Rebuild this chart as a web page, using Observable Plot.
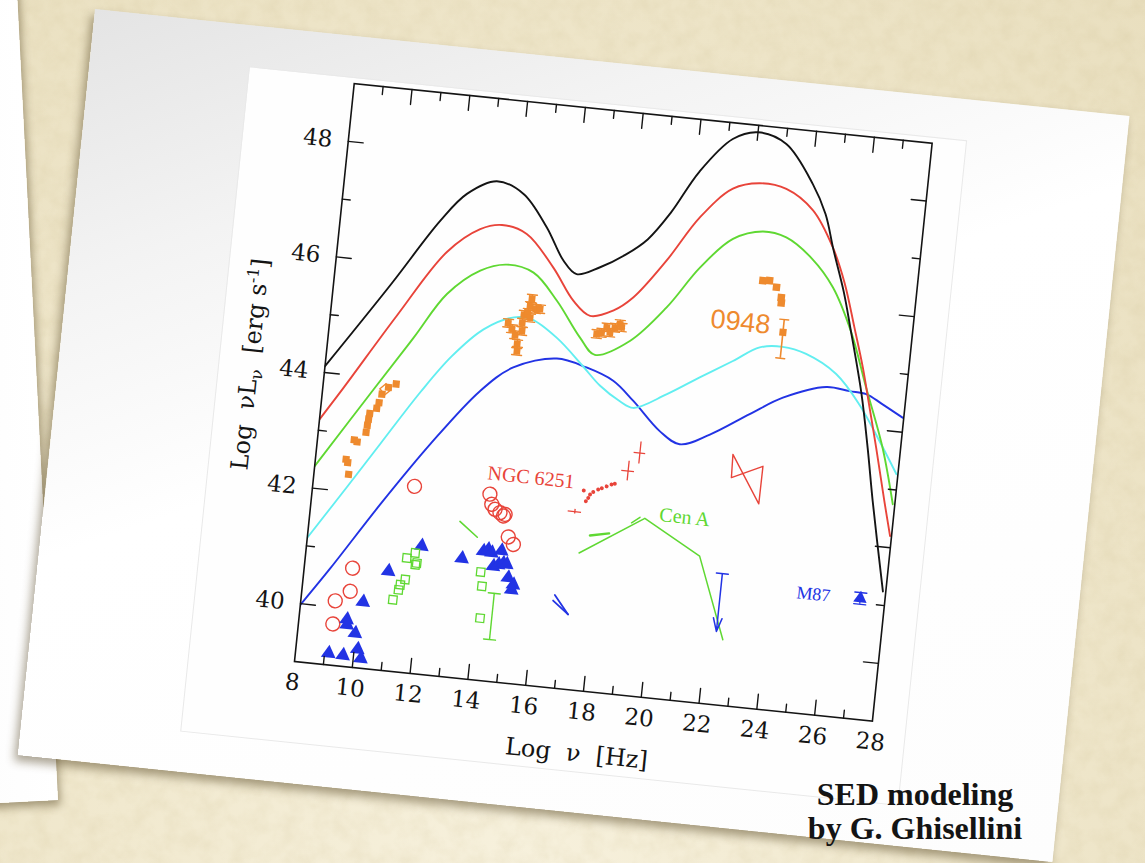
<!DOCTYPE html>
<html>
<head>
<meta charset="utf-8">
<script src="https://cdn.jsdelivr.net/npm/d3@7"></script>
<script src="https://cdn.jsdelivr.net/npm/@observablehq/plot@0.6"></script>
<style>
  html, body { margin: 0; padding: 0; width: 1145px; height: 863px; overflow: hidden; }
  body {
    position: relative;
    background: radial-gradient(ellipse at 45% 105%, #f7f1dd 0%, #f1e9cf 45%, #e9dfbf 100%);
  }
  #grain { position: absolute; left: 0; top: 0; }
  #back {
    position: absolute; left: -342px; top: -100px; width: 400px; height: 900px;
    transform-origin: 100% 100%; transform: rotate(-2.9deg);
    background: linear-gradient(90deg, #f4f4f4 0%, #ffffff 100%);
    box-shadow: 2px 5px 9px rgba(70, 55, 20, 0.45);
  }
  #sheet {
    position: absolute; left: 95px; top: 9px; width: 1040px; height: 750px;
    transform-origin: 0 0; transform: rotate(5.9deg);
    background: linear-gradient(155deg, #e4e4e4 0%, #f3f3f3 22%, #ffffff 45%, #fdfdfd 100%);
    box-shadow: -3px 6px 10px rgba(70, 55, 20, 0.45);
  }
  #chart {
    position: absolute; left: 160px; top: 42px; width: 720px; height: 667px;
    background: #fefefe; outline: 1px solid #e9e9e9;
  }
  #credit {
    position: absolute; left: 765px; top: 777px; width: 300px;
    font: bold 32px "Liberation Serif", serif; line-height: 34px;
    text-align: center; color: #141414;
  }
</style>
</head>
<body>
<svg id="grain" width="1145" height="863">
  <filter id="mottle">
    <feTurbulence type="fractalNoise" baseFrequency="0.06" numOctaves="3" seed="7"/>
    <feColorMatrix type="matrix" values="0 0 0 0 0.55  0 0 0 0 0.45  0 0 0 0 0.22  0.6 0 0 0 -0.2"/>
  </filter>
  <rect width="1145" height="863" filter="url(#mottle)" opacity="0.4"/>
</svg>
<div id="back"></div>
<div id="sheet"><div id="chart"></div></div>
<div id="credit">SED modeling<br>by G. Ghisellini</div>

<script>
// ---- Blazar-sequence model SEDs: log ν [Hz] vs log νLν [erg/s] ----
const nuBlack  = [8.0, 9.96, 11.43, 12.25, 13.23, 14.19, 15.10, 15.79, 16.29, 17.07, 17.9, 18.6, 19.3, 20.13, 21.16, 22.0, 23.01, 24.06, 24.6, 25.0, 25.5, 25.85, 26.46, 26.87, 27.23, 27.9];
const lumBlack = [44.11, 45.62, 46.80, 47.31, 47.58, 47.41, 46.88, 46.34, 46.13, 46.29, 46.55, 46.85, 47.35, 48.10, 48.72, 48.88, 48.73, 48.09, 47.6, 47.0, 46.3, 45.7, 44.6, 43.67, 42.77, 41.24];

const nuRed  = [8.0, 8.72, 10.28, 11.77, 12.83, 13.56, 14.44, 15.47, 16.27, 16.90, 17.67, 18.31, 19.32, 20.31, 21.34, 22.24, 23.17, 24.16, 24.97, 25.5, 25.99, 26.42, 26.8, 27.16, 27.63, 27.95];
const lumRed = [43.19, 43.78, 45.10, 46.28, 46.73, 46.84, 46.73, 46.20, 45.67, 45.44, 45.57, 45.83, 46.52, 47.32, 47.87, 48.01, 47.96, 47.64, 47.04, 46.45, 45.71, 45.04, 44.35, 43.69, 42.79, 42.2];

const nuGreen  = [8.0, 9.75, 10.93, 11.92, 12.98, 13.87, 14.81, 15.71, 16.63, 17.2, 18.35, 19.49, 20.49, 21.52, 22.52, 23.34, 24.30, 25.11, 25.90, 26.59, 27.38, 27.93];
const lumGreen = [42.38, 43.80, 44.75, 45.56, 46.02, 46.17, 46.08, 45.64, 45.05, 44.78, 45.08, 45.72, 46.46, 47.01, 47.19, 47.13, 46.81, 46.36, 45.62, 44.72, 43.70, 42.75];

const nuCyan  = [8.0, 9.18, 10.17, 11.38, 12.3, 13.3, 14.3, 14.9, 15.85, 16.8, 17.49, 18.22, 18.70, 19.79, 20.87, 21.95, 22.82, 23.6, 24.43, 25.53, 26.43, 27.25, 27.95];
const lumCyan = [41.14, 42.08, 42.88, 43.85, 44.50, 45.02, 45.28, 45.28, 45.00, 44.58, 44.26, 44.03, 43.94, 44.23, 44.58, 44.92, 45.20, 45.25, 45.17, 44.88, 44.40, 43.81, 43.27];

const nuBlue  = [8.0, 8.90, 10.38, 11.88, 13.40, 14.45, 15.91, 16.96, 17.92, 18.68, 19.69, 20.42, 21.42, 22.71, 23.79, 25.24, 26.05, 26.63, 27.2, 27.96];
const lumBlue = [39.98, 40.66, 41.84, 42.96, 43.96, 44.42, 44.65, 44.55, 44.37, 44.06, 43.59, 43.40, 43.62, 44.04, 44.38, 44.64, 44.61, 44.59, 44.45, 44.25];

// ---- 0948 observations ----
const nuRadio0948  = [9.05, 9.12, 9.19, 9.26, 9.37, 9.64, 9.66, 9.68, 9.70, 9.92, 9.98, 10.05, 10.25, 10.50];
const lumRadio0948 = [42.55, 42.50, 42.30, 42.90, 42.87, 43.05, 43.17, 43.28, 43.38, 43.48, 43.58, 43.73, 43.86, 43.93];
const nuOpen0948 = [10.15];
const lumOpen0948 = [43.82];
const nuOpt0948  = [14.12, 14.27, 14.40, 14.50, 14.52, 14.60, 14.62, 14.63, 14.76, 14.81, 14.85, 15.02, 15.16, 14.85];
const lumOpt0948 = [45.17, 45.08, 44.98, 44.83, 44.71, 45.20, 45.06, 45.34, 45.38, 45.50, 45.63, 45.46, 45.47, 45.30];
const nuX0948  = [17.19, 17.35, 17.51, 17.64, 17.79, 17.95, 18.02];
const lumX0948 = [45.14, 45.17, 45.27, 45.19, 45.28, 45.35, 45.30];
const nuGamma0948  = [22.69, 22.92, 23.18, 23.38, 23.40];
const lumGamma0948 = [46.35, 46.36, 46.26, 46.09, 46.00];
const nuTeV0948 = [23.56];
const lumTeV0948 = [45.50];
const lumTeVLow = [45.05];
const lumTeVHigh = [45.72];
const err0948 = 0.07;

// ---- radio galaxies ----
const nuCircles  = [9.18, 9.18, 9.66, 9.66, 11.49, 14.10, 14.20, 14.33, 14.51, 14.69, 14.64, 14.88, 15.08];
const lumCircles = [39.71, 40.11, 40.30, 40.70, 42.21, 42.21, 42.04, 41.96, 41.91, 41.89, 41.86, 41.51, 41.39];

const nuTriangles  = [9.14, 9.64, 10.12, 10.26, 9.65, 9.67, 9.98, 10.14, 10.90, 11.95, 13.37, 14.08, 14.24, 14.37, 14.70, 14.47, 14.64, 14.80, 14.92, 15.02, 15.22, 15.18];
const lumTriangles = [39.20, 39.19, 39.32, 39.17, 39.81, 39.72, 39.59, 40.14, 40.71, 41.20, 41.06, 41.22, 41.26, 41.21, 41.26, 40.98, 41.02, 41.05, 41.04, 40.81, 40.70, 40.61];

const nuSquares  = [11.48, 11.75, 11.84, 11.80, 11.50, 11.35, 11.31, 11.15, 14.06, 14.15, 14.20];
const lumSquares = [40.97, 41.07, 40.90, 40.87, 40.60, 40.50, 40.41, 40.23, 40.86, 40.62, 40.07];
const nuSquareBar = [14.60];
const lumSquareBarLow = [39.72];
const lumSquareBarHigh = [40.52];
const nuGreenDash  = [13.17, 13.82];
const lumGreenDash = [41.69, 41.45];

const nuBlueWedgeA  = [16.68, 17.20];
const lumBlueWedgeA = [40.60, 40.29];
const nuBlueWedgeB  = [16.64, 17.20];
const lumBlueWedgeB = [40.50, 40.29];

// NGC 6251
const nuNGCdots  = [17.30, 17.41, 17.48, 17.53, 17.63, 17.79, 17.91, 18.07, 18.23, 18.34];
const lumNGCdots = [42.44, 42.26, 42.32, 42.38, 42.43, 42.48, 42.51, 42.55, 42.59, 42.61];
const nuNGCcross   = [17.07, 18.75, 19.09];
const lumNGCcross  = [42.06, 42.85, 43.18];
const nuNGCerr     = [0.23, 0.22, 0.20];
const lumNGCerr    = [0.04, 0.17, 0.19];
const nuNGCbowtie  = [22.28, 23.34, 23.35, 22.31, 22.28];
const lumNGCbowtie = [43.32, 42.52, 43.17, 42.92, 43.32];

// Cen A
const nuCenA  = [17.36, 19.49, 21.50, 22.59];
const lumCenA = [41.36, 42.07, 41.52, 40.13];
const nuCenASeg1  = [17.67, 18.32];
const lumCenASeg1 = [41.68, 41.75];
const nuCenASeg2  = [19.05, 19.32];
const lumCenASeg2 = [41.97, 42.08];

// M87
const nuM87Limit = [22.34];
const lumM87LimitTop = [41.26];
const lumM87LimitBottom = [40.26];
const nuM87 = [27.15];
const lumM87 = [41.08];
const errM87 = 0.1;

// ---- labels and ticks ----
const sourceNames = ["0948", "NGC 6251", "Cen A", "M87"];
const sourceNu    = [22.07, 15.45, 20.85, 25.53];
const sourceLum   = [45.60, 42.57, 42.16, 41.07];
const xMajor = [10, 12, 14, 16, 18, 20, 22, 24, 26];
const xMinor = [9, 11, 13, 15, 17, 19, 21, 23, 25, 27];
const xLabels = [8, 10, 12, 14, 16, 18, 20, 22, 24, 26, 28];
const yMajor = [40, 42, 44, 46, 48];
const yMinor = [41, 43, 45, 47];

const pts = (xs, ys) => xs.map((x, i) => ({x, y: ys[i]}));

const BLACK = "#141414", RED = "#e8443a", GREEN = "#5fd832", CYAN = "#62eef0", BLUE = "#2233e4", ORANGE = "#ee8a2e";
const seg = {draw(ctx, l) { ctx.moveTo(0, 0); ctx.lineTo(0, -l); }};

const frameTicks = (values, side, rotate, length) => Plot.vector(values, {
  [side === "top" || side === "bottom" ? "x" : "y"]: d => d,
  frameAnchor: side, rotate, length, anchor: "start", shape: seg,
  stroke: BLACK, strokeWidth: 1.4
});
const caps = (data, yAcc, color, len = 9) => Plot.vector(data, {
  x: "x", y: yAcc, rotate: 90, length: len, anchor: "middle", shape: seg, stroke: color, strokeWidth: 1.4
});
const curve = (xs, ys, color) => Plot.line(pts(xs, ys), {x: "x", y: "y", stroke: color, strokeWidth: 1.9, curve: "catmull-rom", clip: true});

const opt = pts(nuOpt0948, lumOpt0948);
const xr = pts(nuX0948, lumX0948);
const tev = nuTeV0948.map((x, i) => ({x, y: lumTeV0948[i], lo: lumTeVLow[i], hi: lumTeVHigh[i]}));
const sqBar = nuSquareBar.map((x, i) => ({x, lo: lumSquareBarLow[i], hi: lumSquareBarHigh[i]}));
const ngcCross = nuNGCcross.map((x, i) => ({x, y: lumNGCcross[i], dx: nuNGCerr[i], dy: lumNGCerr[i]}));
const m87Lim = nuM87Limit.map((x, i) => ({x, top: lumM87LimitTop[i], bottom: lumM87LimitBottom[i]}));
const m87 = pts(nuM87, lumM87);
const labels = sourceNames.map((t, i) => ({t, x: sourceNu[i], y: sourceLum[i]}));

const chart = Plot.plot({
  width: 720, height: 667,
  marginLeft: 105, marginRight: 34, marginTop: 5, marginBottom: 81,
  x: {domain: [8, 28]},
  y: {domain: [39, 49]},
  style: {fontFamily: "'DejaVu Serif', serif", fontSize: "23px", color: BLACK, background: "transparent", overflow: "visible"},
  marks: [
    // model curves
    curve(nuBlue, lumBlue, BLUE),
    curve(nuCyan, lumCyan, CYAN),
    curve(nuGreen, lumGreen, GREEN),
    curve(nuRed, lumRed, RED),
    curve(nuBlack, lumBlack, BLACK),

    // radio galaxies: open circles, filled triangles, open squares
    Plot.dot(pts(nuCircles, lumCircles), {x: "x", y: "y", r: 7, stroke: RED, strokeWidth: 1.4}),
    Plot.dot(pts(nuTriangles, lumTriangles), {x: "x", y: "y", symbol: "triangle", r: 5.5, fill: BLUE}),
    Plot.dot(pts(nuSquares, lumSquares), {x: "x", y: "y", symbol: "square", r: 4.6, stroke: GREEN, strokeWidth: 1.3}),
    Plot.ruleX(sqBar, {x: "x", y1: "lo", y2: "hi", stroke: GREEN, strokeWidth: 1.4}),
    caps(sqBar, "lo", GREEN, 12), caps(sqBar, "hi", GREEN, 12),
    Plot.line(pts(nuGreenDash, lumGreenDash), {x: "x", y: "y", stroke: GREEN, strokeWidth: 1.6}),
    Plot.line(pts(nuBlueWedgeA, lumBlueWedgeA), {x: "x", y: "y", stroke: BLUE, strokeWidth: 1.8}),
    Plot.line(pts(nuBlueWedgeB, lumBlueWedgeB), {x: "x", y: "y", stroke: BLUE, strokeWidth: 1.8}),

    // NGC 6251
    Plot.dot(pts(nuNGCdots, lumNGCdots), {x: "x", y: "y", r: 2, fill: RED}),
    Plot.ruleY(ngcCross, {y: "y", x1: d => d.x - d.dx, x2: d => d.x + d.dx, stroke: RED, strokeWidth: 1.3}),
    Plot.ruleX(ngcCross, {x: "x", y1: d => d.y - d.dy, y2: d => d.y + d.dy, stroke: RED, strokeWidth: 1.3}),
    Plot.line(pts(nuNGCbowtie, lumNGCbowtie), {x: "x", y: "y", stroke: RED, strokeWidth: 1.4}),

    // Cen A
    Plot.line(pts(nuCenA, lumCenA), {x: "x", y: "y", stroke: GREEN, strokeWidth: 1.5}),
    Plot.line(pts(nuCenASeg1, lumCenASeg1), {x: "x", y: "y", stroke: GREEN, strokeWidth: 2.4}),
    Plot.line(pts(nuCenASeg2, lumCenASeg2), {x: "x", y: "y", stroke: GREEN, strokeWidth: 1.5}),

    // M87
    Plot.arrow(m87Lim, {x: "x", y1: "top", y2: "bottom", stroke: BLUE, strokeWidth: 1.5, headLength: 14, headAngle: 36}),
    caps(m87Lim, "top", BLUE, 12),
    Plot.ruleX(m87, {x: "x", y1: d => d.y - errM87, y2: d => d.y + errM87, stroke: BLUE, strokeWidth: 1.3}),
    caps(m87, d => d.y - errM87, BLUE, 12), caps(m87, d => d.y + errM87, BLUE, 12),
    Plot.dot(m87, {x: "x", y: "y", symbol: "triangle", r: 5, fill: BLUE}),

    // 0948
    Plot.ruleX(opt, {x: "x", y1: d => d.y - err0948, y2: d => d.y + err0948, stroke: ORANGE, strokeWidth: 1.5}),
    caps(opt, d => d.y - err0948, ORANGE, 10), caps(opt, d => d.y + err0948, ORANGE, 10),
    Plot.dot(opt, {x: "x", y: "y", symbol: "square", r: 3.8, fill: ORANGE}),
    Plot.ruleX(xr, {x: "x", y1: d => d.y - err0948, y2: d => d.y + err0948, stroke: ORANGE, strokeWidth: 1.5}),
    caps(xr, d => d.y - err0948, ORANGE, 10), caps(xr, d => d.y + err0948, ORANGE, 10),
    Plot.dot(xr, {x: "x", y: "y", symbol: "square", r: 3.8, fill: ORANGE}),
    Plot.dot(pts(nuGamma0948, lumGamma0948), {x: "x", y: "y", symbol: "square", r: 4.2, fill: ORANGE}),
    Plot.ruleX(tev, {x: "x", y1: "lo", y2: "hi", stroke: ORANGE, strokeWidth: 1.6}),
    caps(tev, "lo", ORANGE, 9), caps(tev, "hi", ORANGE, 9),
    Plot.dot(tev, {x: "x", y: "y", symbol: "square", r: 4, fill: ORANGE}),
    Plot.dot(pts(nuRadio0948, lumRadio0948), {x: "x", y: "y", symbol: "square", r: 4, fill: ORANGE}),
    Plot.dot(pts(nuOpen0948, lumOpen0948), {x: "x", y: "y", symbol: "diamond2", r: 5, stroke: ORANGE, strokeWidth: 1.4}),

    // source names
    Plot.text(labels.filter(d => d.t === "0948"), {x: "x", y: "y", text: "t", fill: ORANGE, fontSize: 27, fontFamily: "'Liberation Sans', sans-serif"}),
    Plot.text(labels.filter(d => d.t === "NGC 6251"), {x: "x", y: "y", text: "t", fill: RED, fontSize: 20, fontFamily: "'Liberation Serif', serif"}),
    Plot.text(labels.filter(d => d.t === "Cen A"), {x: "x", y: "y", text: "t", fill: GREEN, fontSize: 20, fontFamily: "'Liberation Serif', serif"}),
    Plot.text(labels.filter(d => d.t === "M87"), {x: "x", y: "y", text: "t", fill: BLUE, fontSize: 18, fontFamily: "'Liberation Serif', serif"}),

    // frame, inward ticks and tick labels
    Plot.frame({stroke: BLACK, strokeWidth: 1.6}),
    frameTicks(xMajor, "bottom", 0, 15), frameTicks(xMinor, "bottom", 0, 8),
    frameTicks(xMajor, "top", 180, 15), frameTicks(xMinor, "top", 180, 8),
    frameTicks(yMajor, "left", 90, 15), frameTicks(yMinor, "left", 90, 8),
    frameTicks(yMajor, "right", -90, 15), frameTicks(yMinor, "right", -90, 8),
    Plot.axisX(xLabels, {anchor: "bottom", tickSize: 0, tickPadding: 12, tickFormat: d => String(d), label: null}),
    Plot.axisY(yMajor, {anchor: "left", tickSize: 0, tickPadding: 16, tickFormat: d => String(d), label: null})
  ]
});

// axis titles (with Greek ν and sub/superscripts)
const svg = d3.select(chart);
const fw = 720 - 105 - 34, fh = 667 - 5 - 81;
svg.append("text")
  .attr("x", 105 + fw / 2).attr("y", 5 + fh + 71)
  .attr("text-anchor", "middle").attr("font-size", 24).attr("fill", BLACK)
  .style("white-space", "pre")
  .text("Log  ν  [Hz]");
const yt = svg.append("text")
  .attr("transform", `translate(39,${5 + fh / 2}) rotate(-90)`)
  .attr("text-anchor", "middle").attr("font-size", 24).attr("fill", BLACK)
  .style("white-space", "pre");
yt.append("tspan").text("Log  νL");
yt.append("tspan").attr("font-size", 17).attr("dy", 5).text("ν");
yt.append("tspan").attr("dy", -5).text("  [erg s");
yt.append("tspan").attr("font-size", 16).attr("dy", -9).text("-1");
yt.append("tspan").attr("dy", 9).text("]");

document.getElementById("chart").appendChild(chart);
</script>
</body>
</html>
